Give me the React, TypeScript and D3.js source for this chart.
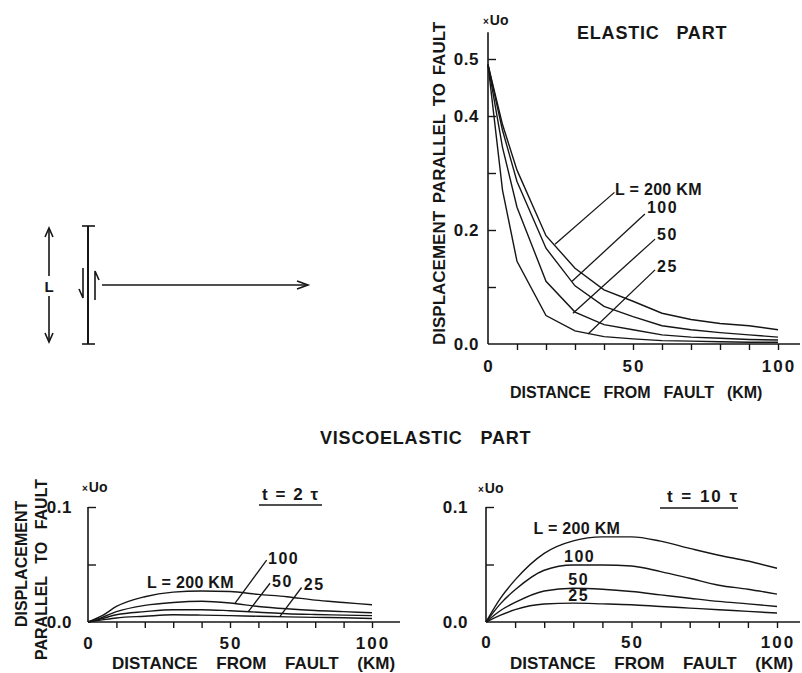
import React, { useEffect, useRef } from "react";
import * as d3 from "d3";

// distance from fault (km) at which the curves were sampled
const distanceKm = [0, 5, 10, 20, 30, 40, 50, 60, 70, 80, 90, 100];

// elastic part, x Uo
const elasticL200 = [0.49, 0.385, 0.305, 0.19, 0.133, 0.095, 0.075, 0.054, 0.043, 0.036, 0.032, 0.025];
const elasticL100 = [0.49, 0.375, 0.285, 0.168, 0.102, 0.066, 0.048, 0.032, 0.025, 0.02, 0.016, 0.012];
const elasticL50 = [0.49, 0.345, 0.24, 0.11, 0.056, 0.034, 0.025, 0.016, 0.012, 0.01, 0.008, 0.007];
const elasticL25 = [0.49, 0.27, 0.145, 0.05, 0.023, 0.013, 0.009, 0.006, 0.005, 0.004, 0.003, 0.003];

// viscoelastic part, t = 2 tau
const visco2L200 = [0, 0.0055, 0.0135, 0.022, 0.026, 0.027, 0.0265, 0.024, 0.022, 0.019, 0.017, 0.015];
const visco2L100 = [0, 0.004, 0.009, 0.0145, 0.017, 0.018, 0.0165, 0.0135, 0.0115, 0.01, 0.009, 0.008];
const visco2L50 = [0, 0.003, 0.0063, 0.009, 0.0107, 0.0107, 0.0098, 0.0085, 0.0072, 0.0065, 0.006, 0.0055];
const visco2L25 = [0, 0.0018, 0.0035, 0.005, 0.0063, 0.006, 0.0055, 0.005, 0.0045, 0.004, 0.0037, 0.003];

// viscoelastic part, t = 10 tau
const visco10L200 = [0, 0.0207, 0.0366, 0.0597, 0.0706, 0.074, 0.074, 0.0703, 0.064, 0.058, 0.053, 0.0467];
const visco10L100 = [0, 0.016, 0.028, 0.045, 0.0496, 0.0496, 0.0487, 0.0438, 0.038, 0.032, 0.0285, 0.0242];
const visco10L50 = [0, 0.01, 0.017, 0.027, 0.0294, 0.0285, 0.0265, 0.0236, 0.0207, 0.0179, 0.0158, 0.0135];
const visco10L25 = [0, 0.006, 0.0107, 0.0156, 0.0164, 0.0158, 0.015, 0.0135, 0.0121, 0.0107, 0.0092, 0.0078];

const curveNames = ["L = 200 KM", "100", "50", "25"];
const xTickValues = [10, 20, 30, 40, 50, 60, 70, 80, 90, 100];
const xTickLabels = [0, 50, 100];
const elasticYTicks = [0.1, 0.2, 0.3, 0.4, 0.5];
const elasticYLabels = [0.0, 0.2, 0.4, 0.5];
const viscoYTicks = [0.05, 0.1];
const viscoYLabels = [0.0, 0.1];

// where the curve names sit, in data units [km, value]
const elasticLabelPos = [[43.8, 0.261], [54.8, 0.23], [58.3, 0.182], [58.3, 0.126]];
const elasticLeaders = [
  [[23.1, 0.175], [43.6, 0.266]],
  [[29, 0.11], [54.1, 0.228]],
  [[29.3, 0.054], [57.6, 0.184]],
  [[34.5, 0.0175], [57.6, 0.13]]
];
const visco2LabelPos = [[20.8, 0.0297], [63.4, 0.0504], [64.8, 0.0305], [76, 0.028]];
const visco2Leaders = [
  null,
  [[51.8, 0.0164], [62.9, 0.0539]],
  [[56.5, 0.0092], [64.1, 0.0337]],
  [[67.6, 0.0049], [75.2, 0.03]]
];
const visco10LabelPos = [[16.3, 0.0768], [26.8, 0.052], [28.3, 0.0323], [28.3, 0.0184]];

const INK = "#161616";
const FONT = "'Liberation Sans', Arial, Helvetica, sans-serif";

type Scale = d3.ScaleLinear<number, number>;
type Svg = d3.Selection<SVGSVGElement, unknown, null, undefined>;

interface PanelSpec {
  x: Scale;
  y: Scale;
  yTop: number;
  yTicks: number[];
  yLabels: number[];
  yLabelGap: number;
  xLabelBaseline: number;
  baselineEnd: number;
  series: number[][];
  curve: d3.CurveFactory;
  labelPos: number[][];
  leaders: (number[][] | null)[];
  uoPos: [number, number];
}

const label = (svg: Svg, text: string, x: number, y: number, size: number, wordSpacing: number, rotate = false) =>
  svg.append("text")
    .attr("transform", rotate ? `translate(${x},${y}) rotate(-90)` : `translate(${x},${y})`)
    .attr("font-size", size)
    .attr("word-spacing", wordSpacing)
    .text(text);

const drawPanel = (svg: Svg, p: PanelSpec) => {
  const { x, y } = p;
  const g = svg.append("g");

  // axis lines
  g.append("line")
    .attr("x1", x(0)).attr("x2", x(0))
    .attr("y1", y(p.yTop)).attr("y2", y(0))
    .attr("stroke", INK).attr("stroke-width", 1.6);
  g.append("line")
    .attr("x1", x(0)).attr("x2", p.baselineEnd)
    .attr("y1", y(0)).attr("y2", y(0))
    .attr("stroke", INK).attr("stroke-width", 1.6);

  const yAxis = g.append("g")
    .attr("transform", `translate(${x(0)},0)`)
    .call(d3.axisRight(y).tickValues(p.yTicks).tickSize(8).tickFormat(() => ""));
  yAxis.select(".domain").remove();
  yAxis.selectAll("line").attr("stroke", INK).attr("stroke-width", 1.4);

  const xAxis = g.append("g")
    .attr("transform", `translate(0,${y(0)})`)
    .call(d3.axisBottom(x).tickValues(xTickValues).tickSize(6).tickFormat(() => ""));
  xAxis.select(".domain").remove();
  xAxis.selectAll("line").attr("stroke", INK).attr("stroke-width", 1.4);

  // tick labels
  g.selectAll(".ylab")
    .data(p.yLabels)
    .enter()
    .append("text")
    .attr("x", x(0) - p.yLabelGap)
    .attr("y", d => y(d) + 6)
    .attr("text-anchor", "end")
    .attr("font-size", 17)
    .attr("letter-spacing", 0.5)
    .text(d => d3.format(".1f")(d));

  g.selectAll(".xlab")
    .data(xTickLabels)
    .enter()
    .append("text")
    .attr("x", d => x(d) + 1)
    .attr("y", p.xLabelBaseline)
    .attr("text-anchor", "middle")
    .attr("font-size", 17)
    .attr("letter-spacing", 2)
    .text(d => String(d));

  // x Uo
  const uo = g.append("text")
    .attr("x", p.uoPos[0])
    .attr("y", p.uoPos[1]);
  uo.append("tspan").attr("font-size", 10).text("×");
  uo.append("tspan").attr("font-size", 14).attr("dx", 1).text("Uo");

  // curves
  const line = d3.line<number>()
    .x((_, i) => x(distanceKm[i]))
    .y(d => y(d))
    .curve(p.curve);

  g.selectAll(".curve")
    .data(p.series)
    .enter()
    .append("path")
    .attr("d", d => line(d))
    .attr("fill", "none")
    .attr("stroke", INK)
    .attr("stroke-width", 1.4);

  p.leaders.forEach(seg => {
    if (!seg) return;
    g.append("line")
      .attr("x1", x(seg[0][0])).attr("y1", y(seg[0][1]))
      .attr("x2", x(seg[1][0])).attr("y2", y(seg[1][1]))
      .attr("stroke", INK).attr("stroke-width", 1.3);
  });

  p.labelPos.forEach((pos, i) => {
    g.append("text")
      .attr("x", x(pos[0]))
      .attr("y", y(pos[1]))
      .attr("font-size", 16)
      .attr("letter-spacing", i === 0 ? 0.3 : 1.5)
      .text(curveNames[i]);
  });
};

const App: React.FC = () => {
  const svgRef = useRef<SVGSVGElement | null>(null);

  useEffect(() => {
    if (!svgRef.current) return;
    const svg = d3.select(svgRef.current);
    svg.selectAll("*").remove();

    // ---- fault sketch ----
    const sk = svg.append("g").attr("stroke", INK).attr("fill", "none").attr("stroke-width", 1.6);
    sk.append("line").attr("x1", 88).attr("x2", 88).attr("y1", 226).attr("y2", 344).attr("stroke-width", 2);
    sk.append("line").attr("x1", 82).attr("x2", 95).attr("y1", 226).attr("y2", 226);
    sk.append("line").attr("x1", 82).attr("x2", 95).attr("y1", 344).attr("y2", 344);
    // slip half-arrows
    sk.append("path").attr("d", "M83,268 L83,298 L79,289");
    sk.append("path").attr("d", "M95,300 L95,271 L99,280");
    // profile arrow
    sk.append("line").attr("x1", 102).attr("x2", 308).attr("y1", 285).attr("y2", 285);
    sk.append("path").attr("d", "M297,281 L308,285 L297,289");
    // L arrow
    sk.append("line").attr("x1", 49).attr("x2", 49).attr("y1", 228).attr("y2", 276);
    sk.append("line").attr("x1", 49).attr("x2", 49).attr("y1", 296).attr("y2", 342);
    sk.append("path").attr("d", "M45,237 L49,228 L53,237");
    sk.append("path").attr("d", "M45,333 L49,342 L53,333");
    svg.append("text").attr("x", 49).attr("y", 292).attr("text-anchor", "middle")
      .attr("font-size", 15).text("L");

    // ---- elastic part ----
    const xE = d3.scaleLinear().domain([0, 100]).range([488, 778]);
    const yE = d3.scaleLinear().domain([0, 0.5]).range([344, 59]);
    drawPanel(svg, {
      x: xE, y: yE, yTop: 0.547,
      yTicks: elasticYTicks, yLabels: elasticYLabels, yLabelGap: 9,
      xLabelBaseline: 372, baselineEnd: 800,
      series: [elasticL200, elasticL100, elasticL50, elasticL25],
      curve: d3.curveLinear,
      labelPos: elasticLabelPos, leaders: elasticLeaders,
      uoPos: [483, 25]
    });
    label(svg, "ELASTIC PART", 577, 39, 18, 11).attr("letter-spacing", 0.8);
    label(svg, "DISTANCE FROM FAULT (KM)", 510, 398, 16, 8.5);
    label(svg, "DISPLACEMENT PARALLEL TO FAULT", 445, 345, 17, 3, true);

    label(svg, "VISCOELASTIC PART", 320, 444, 18, 12).attr("letter-spacing", 0.8);

    // ---- viscoelastic t = 2 tau ----
    const xV2 = d3.scaleLinear().domain([0, 100]).range([88, 372]);
    const yV = d3.scaleLinear().domain([0, 0.1]).range([622, 507]);
    drawPanel(svg, {
      x: xV2, y: yV, yTop: 0.1,
      yTicks: viscoYTicks, yLabels: viscoYLabels, yLabelGap: 16,
      xLabelBaseline: 649, baselineEnd: 400,
      series: [visco2L200, visco2L100, visco2L50, visco2L25],
      curve: d3.curveMonotoneX,
      labelPos: visco2LabelPos, leaders: visco2Leaders,
      uoPos: [82, 492]
    });
    svg.append("text").attr("x", 262).attr("y", 500).attr("font-size", 17)
      .attr("textLength", 56).attr("lengthAdjust", "spacing").text("t = 2 τ");
    svg.append("line").attr("x1", 259).attr("x2", 322).attr("y1", 505).attr("y2", 505)
      .attr("stroke", INK).attr("stroke-width", 1.5);
    label(svg, "DISTANCE FROM FAULT (KM)", 112, 669, 17, 14);
    label(svg, "DISPLACEMENT", 27, 627, 16, 0, true);
    label(svg, "PARALLEL TO FAULT", 47, 660, 16, 8, true);

    // ---- viscoelastic t = 10 tau ----
    const xV10 = d3.scaleLinear().domain([0, 100]).range([486, 777]);
    drawPanel(svg, {
      x: xV10, y: yV, yTop: 0.1,
      yTicks: viscoYTicks, yLabels: viscoYLabels, yLabelGap: 18,
      xLabelBaseline: 648, baselineEnd: 800,
      series: [visco10L200, visco10L100, visco10L50, visco10L25],
      curve: d3.curveMonotoneX,
      labelPos: visco10LabelPos, leaders: [null, null, null, null],
      uoPos: [478, 493]
    });
    svg.append("text").attr("x", 667).attr("y", 502).attr("font-size", 17)
      .attr("textLength", 70).attr("lengthAdjust", "spacing").text("t = 10 τ");
    svg.append("line").attr("x1", 660).attr("x2", 738).attr("y1", 508).attr("y2", 508)
      .attr("stroke", INK).attr("stroke-width", 1.5);
    label(svg, "DISTANCE FROM FAULT (KM)", 510, 669, 17, 14);
  }, []);

  return (
    <svg
      ref={svgRef}
      width={802}
      height={673}
      style={{
        position: "absolute", left: 0, top: 0, background: "#fff",
        fontFamily: FONT, fontWeight: 700, fill: INK
      }}
    />
  );
};

export default App;
